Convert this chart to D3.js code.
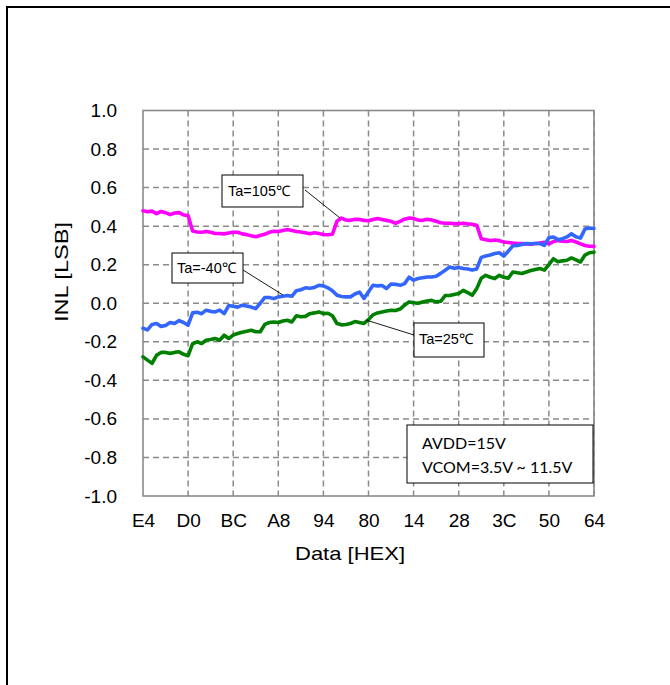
<!DOCTYPE html>
<html>
<head>
<meta charset="utf-8">
<script src="https://cdn.jsdelivr.net/npm/d3@7"></script>
<style>
  html, body { margin: 0; padding: 0; background: #fff; }
  svg { display: block; }
</style>
</head>
<body>
<svg id="chart" width="670" height="685"></svg>
<script>
// ---- data ----
const xTickLabels = ["E4", "D0", "BC", "A8", "94", "80", "14", "28", "3C", "50", "64"];
const xTickCodes = [0, 20, 40, 60, 80, 100, 120, 140, 160, 180, 200];
const yTicks = [1.0, 0.8, 0.6, 0.4, 0.2, 0.0, -0.2, -0.4, -0.6, -0.8, -1.0];

// code index (step of 2 codes along the E4 ... 80, 14 ... 64 sequence)
const codeIdx = d3.range(0, 201, 2);

const inl105 = [
  0.48, 0.475, 0.478, 0.465, 0.476, 0.47, 0.46, 0.468, 0.47, 0.458, 0.455,
  0.375, 0.37, 0.368, 0.372, 0.368, 0.362, 0.362, 0.36, 0.364, 0.368,
  0.368, 0.36, 0.356, 0.35, 0.345, 0.352, 0.358, 0.368, 0.373, 0.372,
  0.378, 0.383, 0.378, 0.372, 0.37, 0.366, 0.361, 0.366, 0.362, 0.357,
  0.355, 0.358, 0.425, 0.442, 0.432, 0.43, 0.436, 0.435, 0.43, 0.428,
  0.435, 0.44, 0.435, 0.43, 0.425, 0.415, 0.425, 0.436, 0.442, 0.44,
  0.432, 0.43, 0.436, 0.432, 0.425, 0.418, 0.415, 0.415, 0.413, 0.412,
  0.415, 0.412, 0.41, 0.405, 0.335, 0.33, 0.325, 0.328, 0.325, 0.318,
  0.315, 0.312, 0.31, 0.31, 0.308, 0.306, 0.31, 0.312, 0.316, 0.308,
  0.32, 0.325, 0.322, 0.32, 0.326, 0.318, 0.308, 0.3, 0.296, 0.295
];
const inlM40 = [
  -0.13, -0.138, -0.11, -0.105, -0.12, -0.115, -0.1, -0.105, -0.09, -0.1, -0.114,
  -0.05, -0.047, -0.054, -0.036, -0.042, -0.045, -0.036, -0.054, -0.012, -0.016,
  -0.02, -0.01, -0.014, -0.02, -0.028, 0.0, 0.03, 0.03, 0.024, 0.033,
  0.036, 0.04, 0.036, 0.065, 0.07, 0.08, 0.078, 0.082, 0.093, 0.09,
  0.08, 0.065, 0.042, 0.035, 0.033, 0.033, 0.048, 0.058, 0.025, 0.06,
  0.093, 0.09, 0.092, 0.076, 0.1, 0.098, 0.093, 0.102, 0.135, 0.12,
  0.128, 0.132, 0.136, 0.136, 0.14, 0.155, 0.171, 0.188, 0.182, 0.185,
  0.18, 0.178, 0.172, 0.178, 0.238, 0.245, 0.25, 0.258, 0.262, 0.245,
  0.27, 0.298, 0.3, 0.305, 0.31, 0.308, 0.31, 0.31, 0.3, 0.34,
  0.344, 0.33, 0.335, 0.344, 0.36, 0.345, 0.338, 0.385, 0.39, 0.388
];
const inl25 = [
  -0.278, -0.295, -0.312, -0.27, -0.255, -0.255, -0.26, -0.255, -0.252, -0.265, -0.272,
  -0.21, -0.2, -0.209, -0.192, -0.188, -0.183, -0.192, -0.166, -0.183, -0.165,
  -0.157, -0.15, -0.145, -0.14, -0.148, -0.148, -0.11, -0.1, -0.097, -0.1,
  -0.092, -0.088, -0.097, -0.065, -0.07, -0.068, -0.054, -0.05, -0.045, -0.054,
  -0.052, -0.065, -0.105, -0.112, -0.11, -0.105, -0.095, -0.1, -0.105, -0.085,
  -0.06, -0.05, -0.045, -0.04, -0.036, -0.038, -0.03, -0.01, 0.007, 0.003,
  0.0, 0.007, 0.012, 0.015, 0.007, 0.01, 0.04, 0.04, 0.045, 0.05,
  0.067, 0.055, 0.042, 0.076, 0.13, 0.145, 0.135, 0.128, 0.145, 0.135,
  0.13, 0.162, 0.158, 0.154, 0.162, 0.17, 0.175, 0.18, 0.172, 0.2,
  0.231, 0.215, 0.22, 0.223, 0.235, 0.225, 0.214, 0.25, 0.262, 0.265
];

const seriesNames = ["Ta=105℃", "Ta=-40℃", "Ta=25℃"];
const seriesColors = ["#ff00ff", "#3366ff", "#008000"];
const noteLines = ["AVDD=15V", "VCOM=3.5V ~ 11.5V"];

// ---- layout ----
const svg = d3.select("#chart");
const L = 143, R = 594, T = 110.5, B = 496;
const x = d3.scaleLinear().domain([0, 200]).range([L, R]);
const y = d3.scaleLinear().domain([-1, 1]).range([B, T]);

// outer frame
svg.append("rect").attr("x", 7).attr("y", 7).attr("width", 720).attr("height", 720)
  .attr("fill", "none").attr("stroke", "#000").attr("stroke-width", 2);

// gridlines
const grid = svg.append("g").attr("stroke", "#8a8a8a").attr("stroke-width", 1.5)
  .attr("stroke-dasharray", "6,4");
grid.selectAll("line.h").data(yTicks.filter(v => v > -1 && v < 1)).join("line")
  .attr("x1", L).attr("x2", R).attr("y1", d => y(d)).attr("y2", d => y(d));
grid.selectAll("line.v").data(xTickCodes.filter(c => c > 0)).join("line")
  .attr("y1", T).attr("y2", B).attr("x1", d => x(d)).attr("x2", d => x(d));

// plot border
svg.append("rect").attr("x", L).attr("y", T).attr("width", R - L).attr("height", B - T)
  .attr("fill", "none").attr("stroke", "#8a8a8a").attr("stroke-width", 1.6);

// axes
const xAxis = d3.axisBottom(x).tickValues(xTickCodes)
  .tickFormat((d, i) => xTickLabels[i]).tickSize(0).tickPadding(18);
const gx = svg.append("g").attr("transform", `translate(0,${B})`).call(xAxis);
gx.select(".domain").remove();
gx.selectAll("text").attr("font-family", "Liberation Sans, Arial, sans-serif")
  .attr("font-size", 19).attr("fill", "#000");

const fmt = d3.format(".1f");
const yAxis = d3.axisLeft(y).tickValues(yTicks).tickFormat(d => fmt(d).replace("−", "-"))
  .tickSize(0).tickPadding(26);
const gy = svg.append("g").attr("transform", `translate(${L},0)`).call(yAxis);
gy.select(".domain").remove();
gy.selectAll("text").attr("font-family", "Liberation Sans, Arial, sans-serif")
  .attr("font-size", 19).attr("fill", "#000");

// axis titles
svg.append("text").attr("x", 350).attr("y", 560).attr("text-anchor", "middle")
  .attr("font-family", "Liberation Sans, Arial, sans-serif").attr("font-size", 19)
  .attr("textLength", 110).attr("lengthAdjust", "spacingAndGlyphs")
  .text("Data [HEX]");
svg.append("text").attr("transform", "translate(68,272) rotate(-90)")
  .attr("text-anchor", "middle")
  .attr("font-family", "Liberation Sans, Arial, sans-serif").attr("font-size", 19)
  .attr("textLength", 100).attr("lengthAdjust", "spacingAndGlyphs")
  .text("INL [LSB]");

// series
const seriesData = [inl105, inlM40, inl25];
const line = d3.line().x((d, i) => x(codeIdx[i])).y(d => y(d));
const drawOrder = [0, 2, 1];
drawOrder.forEach(k => {
  svg.append("path").datum(seriesData[k]).attr("d", line)
    .attr("fill", "none").attr("stroke", seriesColors[k]).attr("stroke-width", 3.6)
    .attr("stroke-linejoin", "round").attr("stroke-linecap", "round");
});

// callouts
const callouts = [
  { box: [222, 175, 81, 32], tx: 228, ty: 196, line: [305, 190, 340, 218] },
  { box: [172, 253, 71, 30], tx: 177, ty: 273, line: [243, 270, 283, 295] },
  { box: [414, 323, 70, 34], tx: 419, ty: 344, line: [414, 335, 366, 320] }
];
callouts.forEach((c, k) => {
  svg.append("line").attr("x1", c.line[0]).attr("y1", c.line[1])
    .attr("x2", c.line[2]).attr("y2", c.line[3])
    .attr("stroke", "#000").attr("stroke-width", 0.9);
  svg.append("rect").attr("x", c.box[0]).attr("y", c.box[1])
    .attr("width", c.box[2]).attr("height", c.box[3])
    .attr("fill", "#fff").attr("stroke", "#000").attr("stroke-width", 1);
  svg.append("text").attr("x", c.tx).attr("y", c.ty)
    .attr("font-family", "Liberation Sans, Arial, sans-serif").attr("font-size", 14.5)
    .attr("fill", "#000").text(seriesNames[k]);
});

// condition note
svg.append("rect").attr("x", 407).attr("y", 425).attr("width", 186).attr("height", 58)
  .attr("fill", "#fff").attr("stroke", "#000").attr("stroke-width", 1);
noteLines.forEach((t, i) => {
  svg.append("text").attr("x", 422).attr("y", 449 + i * 24)
    .attr("font-family", "Lato, 'Open Sans', sans-serif").attr("font-size", 16)
    .attr("fill", "#000").text(t);
});
</script>
</body>
</html>
